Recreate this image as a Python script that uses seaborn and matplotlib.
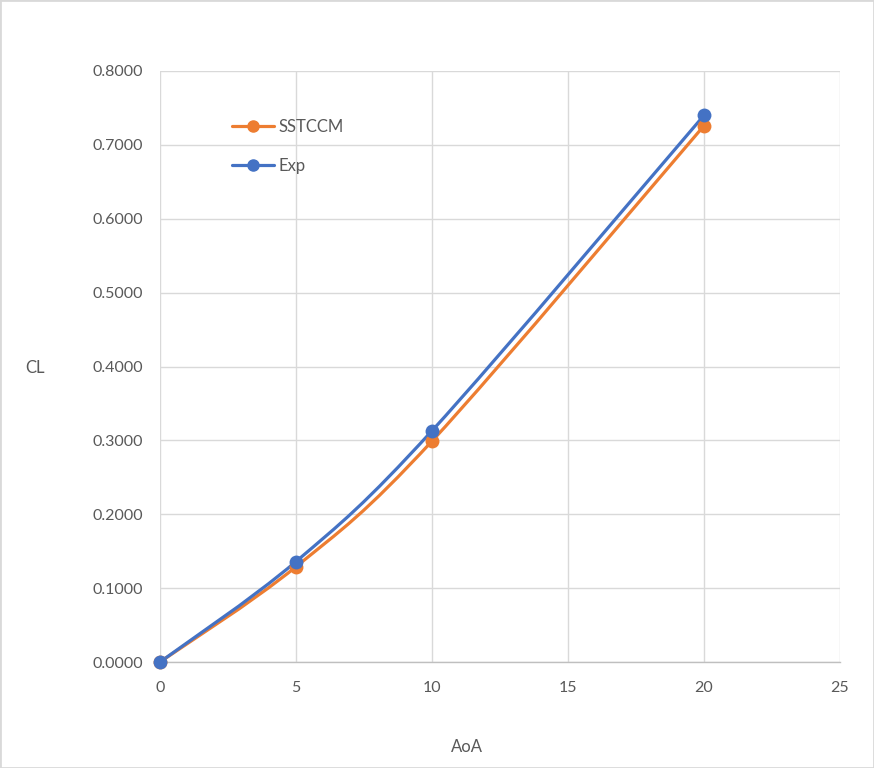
import matplotlib
matplotlib.use("Agg")
import matplotlib.pyplot as plt
from matplotlib.path import Path
from matplotlib.patches import PathPatch, Rectangle
from matplotlib.lines import Line2D
from matplotlib.ticker import FormatStrFormatter
import seaborn as sns
import pandas as pd

aoa = [0, 5, 10, 20]
sstccm = [0.0, 0.129, 0.299, 0.726]
exp = [0.0, 0.136, 0.313, 0.740]
series_names = ["SSTCCM", "Exp"]
colors = {"SSTCCM": "#ED7D31", "Exp": "#4472C4"}
x_ticks = [0, 5, 10, 15, 20, 25]
y_ticks = [0.0, 0.1, 0.2, 0.3, 0.4, 0.5, 0.6, 0.7, 0.8]

sns.set_theme(style="white")
plt.rcParams['font.family'] = ['Lato', 'DejaVu Sans']

df = pd.DataFrame({
    "AoA": aoa * 2,
    "CL": sstccm + exp,
    "series": ["SSTCCM"] * len(aoa) + ["Exp"] * len(aoa),
})

fig = plt.figure(figsize=(8.74, 7.68), dpi=100)
ax = fig.add_axes([160 / 874, 1 - 662 / 768, 680 / 874, 591 / 768])

def smooth_path(xs, ys):
    pts = list(zip(xs, ys))
    verts = [pts[0]]
    codes = [Path.MOVETO]
    n = len(pts)
    for i in range(n - 1):
        p0 = pts[i - 1] if i > 0 else pts[i]
        p1 = pts[i]
        p2 = pts[i + 1]
        p3 = pts[i + 2] if i + 2 < n else pts[i + 1]
        c1 = (p1[0] + (p2[0] - p0[0]) / 6, p1[1] + (p2[1] - p0[1]) / 6)
        c2 = (p2[0] - (p3[0] - p1[0]) / 6, p2[1] - (p3[1] - p1[1]) / 6)
        verts += [c1, c2, p2]
        codes += [Path.CURVE4] * 3
    return Path(verts, codes)

for name in series_names:
    sub = df[df["series"] == name]
    patch = PathPatch(smooth_path(sub["AoA"].tolist(), sub["CL"].tolist()),
                      facecolor="none", edgecolor=colors[name], lw=2.3,
                      zorder=3, capstyle="round", joinstyle="round")
    ax.add_patch(patch)
    sns.scatterplot(data=sub, x="AoA", y="CL", color=colors[name], s=100,
                    edgecolor=colors[name], linewidth=0, ax=ax, zorder=4,
                    legend=False, clip_on=False)

ax.set_xlim(0, 25)
ax.set_ylim(0, 0.8)
ax.set_xticks(x_ticks)
ax.set_yticks(y_ticks)
ax.yaxis.set_major_formatter(FormatStrFormatter("%.4f"))
ax.grid(True, color="#d9d9d9", lw=1.0)
ax.set_axisbelow(True)
for s in ["top", "right", "left"]:
    ax.spines[s].set_visible(False)
ax.spines["bottom"].set_color("#bfbfbf")
ax.spines["bottom"].set_linewidth(1.0)
ax.tick_params(axis="both", length=0, labelsize=11.5, labelcolor="#595959")
ax.tick_params(axis="x", pad=14)
ax.tick_params(axis="y", pad=12)
ax.set_xlabel("")
ax.set_ylabel("")

fig.text(35 / 874, 1 - 368 / 768, "CL", fontsize=12, color="#595959",
         ha="center", va="center")
fig.text(467 / 874, 1 - 747 / 768, "AoA", fontsize=12, color="#595959",
         ha="center", va="center")

handles = [Line2D([0], [0], color=colors[n], lw=2.3, marker="o", markersize=8)
           for n in series_names]
ax.legend(handles, series_names, loc="upper left",
          bbox_to_anchor=(57 / 680, 1 - 33 / 591), frameon=False,
          fontsize=12, labelcolor="#595959", handlelength=2.5,
          handletextpad=0.3, labelspacing=1.35)

fig.patches.append(Rectangle((0, 0), 1, 1, transform=fig.transFigure,
                             fill=False, edgecolor="#d9d9d9", lw=2))

fig.savefig("out.png", dpi=100)
